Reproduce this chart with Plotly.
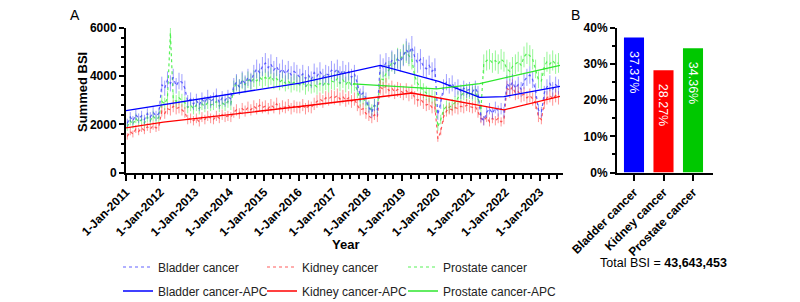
import pandas as pd
import plotly.graph_objects as go

# ---------------- data ----------------
months = pd.date_range("2011-01-01", periods=151, freq="MS") + pd.Timedelta(days=14)

bladder = [
    2050, 2300, 2150, 2400, 2250, 2350, 2200, 2450, 2300, 2500, 2350, 2450,
    3650, 3500, 3850, 3700, 3950, 3600, 3800, 3750, 3500, 2950, 3050, 2850,
    3000, 2800, 3050, 2900, 3150, 2950, 3050, 3200, 2900, 3100, 3000, 3150,
    3050, 3600, 3750, 3550, 3850, 3700, 3950, 3800, 4100, 4300, 4150, 4400,
    4550, 4350, 4500, 4250, 4400, 4150, 4300, 4100, 4250, 4050, 4200, 4100,
    3950, 4100, 3900, 4050, 3850, 4150, 4000, 4200, 3950, 4100, 4050, 4250,
    4150, 4300, 4050, 4250, 4100, 4200, 3950, 4100, 3700, 3200, 3300, 3050,
    2700, 2500, 2800, 2600, 4500, 4350, 4550, 4400, 4650, 4500, 4700, 4600,
    4850, 5100, 4950, 5200, 4800, 4550, 4700, 4400, 4300, 4450, 4200, 4350,
    2400, 2900, 3550, 3750, 3600, 3700, 3450, 3550, 3350, 3500, 3400, 3450,
    3350, 3500, 3300, 2300, 2150, 2500, 2650, 2450, 2700, 2550, 2650, 2500,
    3700, 3550, 3750, 3500, 3650, 3450, 3800, 3950, 4050, 3850, 3400, 2600,
    2500, 3300, 3550, 3700, 3450, 3650, 3550,
]
kidney = [
    1500, 1700, 1600, 1800, 1700, 1850, 1750, 1900, 1800, 1950, 1850, 1900,
    2550, 2450, 2650, 2600, 2750, 2650, 2700, 2600, 2500, 2200, 2250, 2150,
    2250, 2100, 2300, 2200, 2350, 2250, 2200, 2350, 2250, 2400, 2300, 2350,
    2300, 2500, 2600, 2450, 2650, 2550, 2700, 2600, 2750, 2650, 2800, 2700,
    2750, 2650, 2800, 2700, 2850, 2650, 2750, 2700, 2800, 2650, 2750, 2700,
    2700, 2800, 2650, 2750, 2700, 2850, 2950, 3050, 2950, 3100, 3050, 3150,
    3100, 3200, 3050, 3150, 3000, 3100, 2950, 3050, 2800, 2600, 2650, 2450,
    2350, 2250, 2400, 2300, 3550, 3450, 3600, 3400, 3500, 3350, 3450, 3400,
    3300, 3400, 3250, 3350, 3100, 3000, 3050, 2900, 2800, 2850, 2700, 2750,
    1400, 1700, 2300, 2550, 2650, 2600, 2700, 2650, 2750, 2700, 2800, 2750,
    2700, 2750, 2500, 2250, 2150, 2300, 2100, 2250, 2150, 2250, 2100, 2200,
    3500, 3400, 3550, 3300, 3350, 3200, 3250, 3100, 3200, 3050, 2900, 2300,
    2200, 2900, 3100, 3200, 3050, 3200, 3100,
]
prostate = [
    1900, 2150, 2000, 2250, 2100, 2200, 2050, 2300, 2150, 2350, 2200, 2300,
    2950, 2850, 3100, 5800, 3050, 2950, 3100, 3000, 2900, 2700, 2800, 2650,
    2800, 2650, 2850, 2750, 2900, 2800, 2850, 2950, 2750, 2900, 2800, 2950,
    2850, 3500, 3700, 3550, 3800, 3650, 3850, 3750, 3900, 3800, 3950, 3850,
    3950, 3850, 4000, 3800, 3900, 3750, 3850, 3700, 3800, 3650, 3750, 3700,
    3650, 3750, 3550, 3700, 3600, 3650, 3550, 3700, 3600, 3750, 3650, 3800,
    3750, 3900, 3700, 3850, 3650, 3800, 3600, 3700, 3400, 3000, 3100, 2900,
    2750, 2600, 2800, 2700, 3900, 3850, 4100, 4250, 4600, 4500, 4750, 4700,
    4900, 5000, 4850, 4700, 4000, 3700, 3550, 3400, 3300, 3200, 3150, 3100,
    1900, 2200, 2600, 2750, 2700, 2800, 2900, 3100, 3200, 3300, 3250, 3350,
    3250, 3300, 3100, 2600, 4500, 4650, 4700, 4550, 4650, 4500, 4700, 4600,
    4300, 4200, 4400, 4500, 4600, 4450, 4800, 4950, 4850, 4700, 4300, 3850,
    3800, 4400, 4600, 4500, 4650, 4500, 4550,
]

bladder_apc_dates = ["2011-01-01", "2016-01-15", "2018-05-15", "2020-02-01", "2021-04-01", "2021-12-15", "2023-07-31"]
bladder_apc = [2570, 3715, 4450, 3770, 3120, 3150, 3580]
kidney_apc_dates = ["2011-01-01", "2012-02-01", "2016-01-15", "2019-04-15", "2021-12-15", "2023-07-31"]
kidney_apc = [1850, 2090, 2740, 3300, 2600, 3160]
prostate_apc_dates = ["2017-08-01", "2020-01-01", "2021-04-01", "2023-07-31"]
prostate_apc = [3680, 3470, 3690, 4450]

categories = ["Bladder cancer", "Kidney cancer", "Prostate cancer"]
shares = [37.37, 28.27, 34.36]
total_bsi = "43,643,453"

# ---------------- figure ----------------
FONT = "Arial, Liberation Sans, Helvetica, sans-serif"
W, H = 800, 302
def px(x): return x / W
def py(y): return 1 - y / H

BLUE, RED, GREEN = "#0000ff", "#ff0000", "#2ee62e"
BLUE_L, RED_L, GREEN_L = "rgba(70,70,255,0.85)", "rgba(255,50,50,0.8)", "rgba(70,240,70,0.9)"
BLUE_E, RED_E, GREEN_E = "rgba(80,80,255,0.55)", "rgba(255,60,60,0.55)", "rgba(80,240,80,0.6)"

fig = go.Figure()

def series(y, name, col, ecol, lg):
    return go.Scatter(x=months, y=y, name=name, mode="lines", legend=lg,
                      line=dict(color=col, width=1.2, dash="dot"),
                      error_y=dict(type="percent", value=9, color=ecol, thickness=1, width=0))

# data series (draw order: prostate, kidney, bladder)
fig.add_trace(series(prostate, "Prostate cancer", GREEN_L, GREEN_E, "legend3"))
fig.add_trace(series(kidney, "Kidney cancer", RED_L, RED_E, "legend2"))
fig.add_trace(series(bladder, "Bladder cancer", BLUE_L, BLUE_E, "legend"))

fig.add_trace(go.Scatter(x=pd.to_datetime(bladder_apc_dates), y=bladder_apc, name="Bladder cancer-APC",
                         mode="lines", line=dict(color=BLUE, width=1.3), legend="legend4"))
fig.add_trace(go.Scatter(x=pd.to_datetime(kidney_apc_dates), y=kidney_apc, name="Kidney cancer-APC",
                         mode="lines", line=dict(color=RED, width=1.3), legend="legend5"))
fig.add_trace(go.Scatter(x=pd.to_datetime(prostate_apc_dates), y=prostate_apc, name="Prostate cancer-APC",
                         mode="lines", line=dict(color=GREEN, width=1.3), legend="legend6"))

# bar chart
fig.add_trace(go.Bar(x=categories, y=shares, xaxis="x2", yaxis="y2", showlegend=False,
                     marker=dict(color=["#0000ff", "#ff0000", "#00c800"], line=dict(width=0)),
                     width=0.68,
                     text=[f"\u00a0\u00a0\u00a0{v:.2f}%" for v in shares], textposition="inside",
                     insidetextanchor="end", textangle=90,
                     textfont=dict(color="white", size=12.5, family=FONT)))

ydom = [1 - 172.5 / H, 1 - 28 / H]
axis_common = dict(showline=True, linecolor="black", linewidth=2, ticks="outside",
                   tickcolor="black", tickwidth=2, showgrid=False, zeroline=False, automargin=False,
                   tickfont=dict(family=FONT, size=12, color="black", weight="bold"))

legend_pos = {"legend": (118, 267), "legend2": (262, 267), "legend3": (403, 267),
              "legend4": (118, 291), "legend5": (262, 291), "legend6": (403, 291)}
legends = {k: dict(x=px(v[0]), y=py(v[1]), xanchor="left", yanchor="middle",
                   bgcolor="rgba(0,0,0,0)", font=dict(family=FONT, size=12, color="#222"),
                   itemwidth=30) for k, v in legend_pos.items()}

fig.update_layout(
    width=W, height=H, margin=dict(l=0, r=0, t=0, b=0, pad=0, autoexpand=False),
    paper_bgcolor="white", plot_bgcolor="white",
    font=dict(family=FONT, color="black"),
    xaxis=dict(domain=[px(126), px(563)], type="date",
               range=["2011-01-01", "2023-09-01"],
               tick0="2011-01-01", dtick="M12", tickformat="%-d-%b-%Y", tickangle=-45,
               ticklen=6,
               minor=dict(dtick="M3", ticks="outside", ticklen=4, tickwidth=1.5, tickcolor="black"),
               anchor="y", **axis_common),
    yaxis=dict(domain=ydom, range=[0, 6000], dtick=2000, ticklen=5,
               minor=dict(dtick=400, ticks="outside", ticklen=3, tickwidth=1.5, tickcolor="black"),
               anchor="x", **axis_common),
    xaxis2=dict(domain=[px(617), px(713)], range=[-0.576, 2.678], tickangle=-45, ticklen=6,
                anchor="y2", **axis_common),
    yaxis2=dict(domain=ydom, range=[0, 40], dtick=10, ticksuffix="%", ticklen=5,
                minor=dict(dtick=5, ticks="outside", ticklen=3, tickwidth=1.5, tickcolor="black"),
                anchor="x2", **axis_common),
    **legends,
)

annotations = [
    dict(x=px(75), y=py(15), text="A", font=dict(size=14, family=FONT)),
    dict(x=px(575), y=py(15), text="B", font=dict(size=14, family=FONT)),
    dict(x=px(82), y=py(92), text="<b>Summed BSI</b>", textangle=-90, font=dict(size=13, family=FONT)),
    dict(x=px(345), y=py(244), text="<b>Year</b>", font=dict(size=13, family=FONT)),
    dict(x=px(663), y=py(263), text=f"Total BSI = <b>{total_bsi}</b>", font=dict(size=12.5, family=FONT)),
]
fig.update_layout(annotations=[dict(a, xref="paper", yref="paper", xanchor="center", yanchor="middle",
                                    showarrow=False) for a in annotations])

fig.write_html("out.html")
